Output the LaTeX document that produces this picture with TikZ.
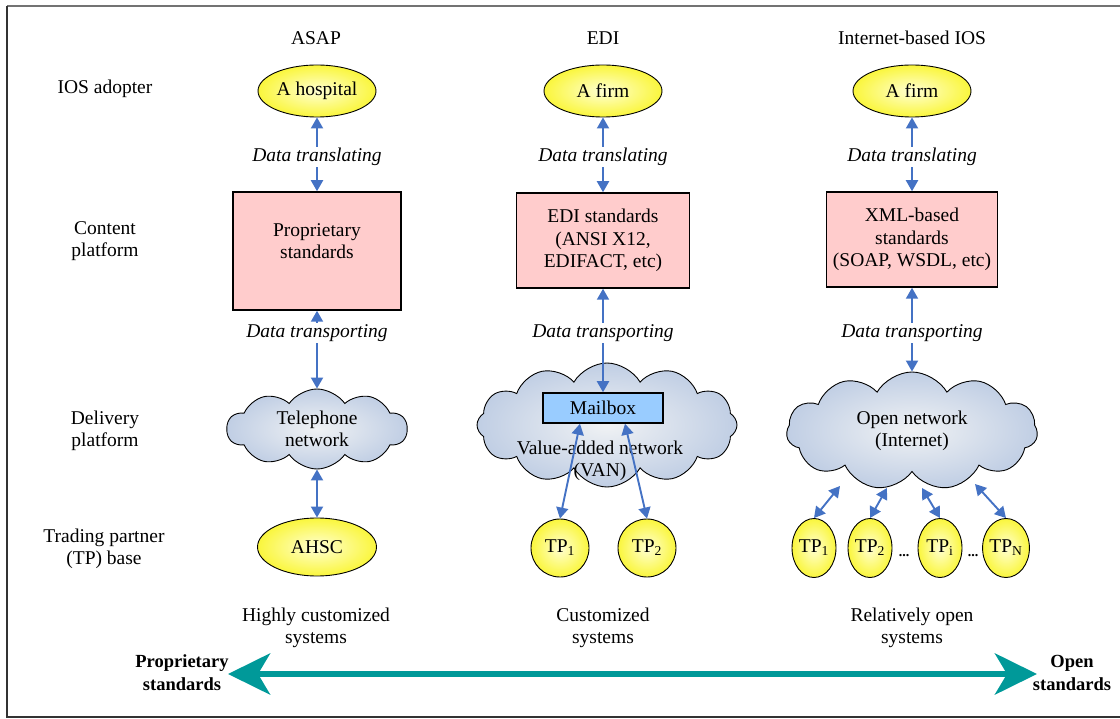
\documentclass[tikz,border=0pt]{standalone}
\usepackage{fontspec}
\setmainfont{Liberation Serif}
\usetikzlibrary{shapes.geometric,shapes.symbols,arrows.meta}
\definecolor{arrowblue}{RGB}{68,114,196}
\definecolor{boxpink}{RGB}{255,204,204}
\definecolor{mailblue}{RGB}{153,204,255}
\definecolor{tealarrow}{RGB}{0,153,153}
\definecolor{cloudin}{RGB}{240,242,244}
\definecolor{cloudout}{RGB}{192,206,228}
\definecolor{ylin}{RGB}{255,255,210}
\definecolor{ylout}{RGB}{250,246,60}
\begin{document}
\begin{tikzpicture}[x=1pt,y=-1pt,
  txt/.style={font=\fontsize{19.5}{22}\selectfont, align=center, inner sep=1pt},
  boldtxt/.style={font=\fontsize{18.5}{23}\selectfont\bfseries, align=center, inner sep=1pt},
  lbl/.style={font=\fontsize{19.5}{22}\selectfont\itshape, fill=white, inner sep=1pt},
  yellow/.style={ellipse, draw=black, line width=0.9pt, shading=radial, inner color=ylin, outer color=ylout, inner sep=0pt, font=\fontsize{19.5}{22}\selectfont},
  adopter/.style={yellow, minimum width=118pt, minimum height=52pt},
  tpell/.style={yellow, minimum width=44pt, minimum height=59pt},
  tpcirc/.style={yellow, circle, minimum size=58pt},
  stdbox/.style={rectangle, draw=black, line width=1.5pt, fill=boxpink, align=center, inner sep=2pt, font=\fontsize{19.5}{22.5}\selectfont},
  netcloud/.style={cloud, cloud ignores aspect, draw=black, line width=0.9pt, shading=radial, inner color=cloudin, outer color=cloudout, align=center, inner sep=0pt, font=\fontsize{19.5}{22}\selectfont},
  mailbox/.style={rectangle, draw=black, line width=1.5pt, fill=mailblue, minimum width=120pt, minimum height=30pt, inner sep=0pt, font=\fontsize{19.5}{22}\selectfont},
  conn/.style={draw=arrowblue, line width=1.9pt, >={Triangle[length=11pt,width=12pt]}, <->},
  bigarrow/.style={draw=tealarrow, line width=6.5pt, {Stealth[length=42pt,width=41pt,inset=12pt]}-{Stealth[length=42pt,width=41pt,inset=12pt]}}
]
\useasboundingbox (0,0) rectangle (1120,719);
% frame
\draw[line width=2pt, color=black!55] (7,6) -- (1130,6);
\draw[line width=2.2pt, color=black!80] (7,6) -- (7,717) -- (1130,717);

% column headers
\node[txt] (hasap) at (316,38) {ASAP};
\node[txt] (hedi) at (603,38) {EDI};
\node[txt] (hint) at (912,38) {Internet-based IOS};

% row labels
\node[txt] (r1) at (105,89) {IOS adopter};
\node[txt] (r2) at (105,241) {Content\\platform};
\node[txt] (r3) at (105,431) {Delivery\\platform};
\node[txt] (r4) at (104,549) {Trading partner\\(TP) base};

% adopters
\node[adopter] (hosp) at (317,91) {A hospital};
\node[adopter] (firm1) at (603,91) {A firm};
\node[adopter] (firm2) at (912,91) {A firm};

% content platforms
\node[stdbox, minimum width=168pt, minimum height=118pt] (prop) at (317,251) {};
\node[txt] (proptext) at (317,241) {Proprietary\\standards};
\node[stdbox, minimum width=173pt, minimum height=95pt] (edi) at (603,240.5) {EDI standards\\(ANSI X12,\\EDIFACT, etc)};
\node[stdbox, minimum width=171pt, minimum height=95pt] (xml) at (912,239.5) {XML-based\\standards\\(SOAP, WSDL, etc)};

% delivery platforms
\node[netcloud, cloud puffs=10, cloud puff arc=110, minimum width=180pt, minimum height=80pt] (tel) at (317,429) {Telephone\\network};
\node[netcloud, cloud puffs=12, cloud puff arc=120, minimum width=260pt, minimum height=124pt] (van) at (607,425) {};
\node[mailbox] (mail) at (603,408) {Mailbox};
\node[txt] (vantext) at (600,461) {Value-added network\\(VAN)};
\node[netcloud, cloud puffs=11, cloud puff arc=120, minimum width=251pt, minimum height=118pt] (net) at (912,431) {Open network\\(Internet)};

% trading partners
\node[adopter, minimum width=119pt, minimum height=58pt] (ahsc) at (317,547) {AHSC};
\node[tpcirc] (tp1) at (560,548) {TP\textsubscript{1}};
\node[tpcirc] (tp2) at (647,548) {TP\textsubscript{2}};
\node[tpell] (tpa) at (814,548) {TP\textsubscript{1}};
\node[tpell] (tpb) at (870,548) {TP\textsubscript{2}};
\node[tpell] (tpc) at (940,548) {TP\textsubscript{i}};
\node[tpell] (tpd) at (1006,548) {TP\textsubscript{N}};
\node[font=\fontsize{14}{16}\selectfont\bfseries, anchor=base, inner sep=0pt] (dots1) at (904,556) {...};
\node[font=\fontsize{14}{16}\selectfont\bfseries, anchor=base, inner sep=0pt] (dots2) at (973,556) {...};

% cloud border points
\coordinate (c1) at (840,486);
\coordinate (c2) at (887,488);
\coordinate (c3) at (922,488);
\coordinate (c4) at (975,484);

% connectors
\draw[conn] (hosp) -- (prop);
\draw[conn] (firm1) -- (edi);
\draw[conn] (firm2) -- (xml);
\draw[conn] (prop) -- (tel);
\draw[conn] (edi) -- (mail);
\draw[conn] (xml) -- (net);
\draw[conn] (tel) -- (ahsc);
\draw[conn] ([xshift=-23pt]mail.south) -- (tp1.north);
\draw[conn] ([xshift=22pt]mail.south) -- (tp2.north);
\draw[conn] (c1) -- (tpa.north);
\draw[conn] (c2) -- (tpb.north);
\draw[conn] (c3) -- (tpc.north);
\draw[conn] (c4) -- (tpd.north);

% connector labels
\node[lbl] (l1) at (317,157) {Data translating};
\node[lbl] (l2) at (603,157) {Data translating};
\node[lbl] (l3) at (912,157) {Data translating};
\node[lbl] (l4) at (317,333) {Data transporting};
\node[lbl] (l5) at (603,333) {Data transporting};
\node[lbl] (l6) at (912,333) {Data transporting};

% bottom captions
\node[txt] (b1) at (316,628) {Highly customized\\systems};
\node[txt] (b2) at (603,628) {Customized\\systems};
\node[txt] (b3) at (912,628) {Relatively open\\systems};

% scale arrow
\node[boldtxt] (propstd) at (182,673) {Proprietary\\standards};
\node[boldtxt] (openstd) at (1072,673) {Open\\standards};
\coordinate (tipL) at (228,674);
\coordinate (tipR) at (1037,674);
\draw[bigarrow] (tipL) -- (tipR);
\end{tikzpicture}
\end{document}
